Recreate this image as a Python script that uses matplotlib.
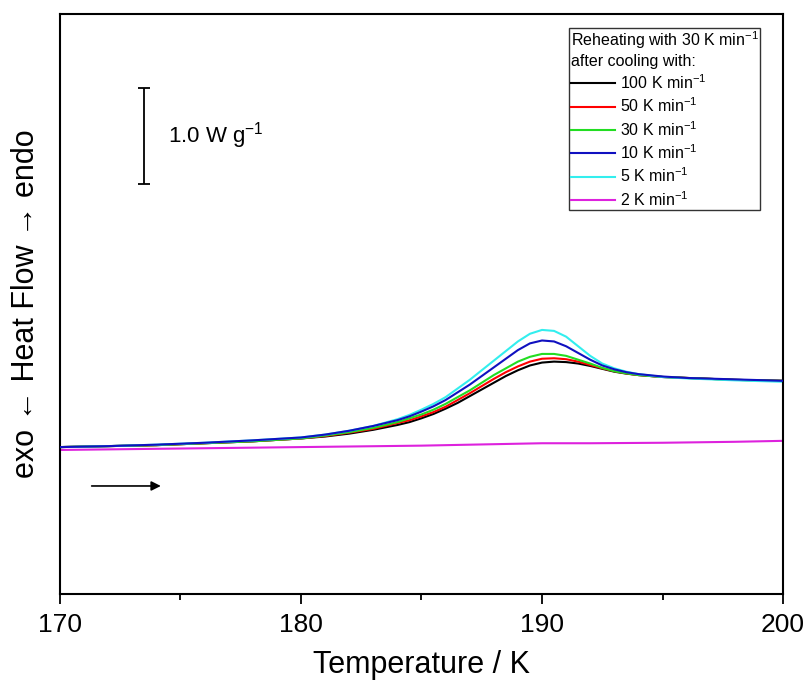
import matplotlib
matplotlib.use("Agg")
import matplotlib.pyplot as plt

# temperature grid (K) shared by the reheating curves
temps = [170, 172, 174, 176, 178, 180, 181, 182, 183, 184, 184.5, 185, 185.5, 186, 186.5,
         187, 187.5, 188, 188.5, 189, 189.5, 190, 190.5, 191, 191.5, 192, 192.5, 193,
         193.5, 194, 195, 196, 198, 200]

# heat flow (W/g, arbitrary offset)
hf_100 = [1.53, 1.54, 1.55, 1.57, 1.59, 1.62, 1.64, 1.67, 1.71, 1.76, 1.79, 1.83, 1.875, 1.93, 1.99,
          2.06, 2.13, 2.20, 2.27, 2.33, 2.38, 2.41, 2.42, 2.415, 2.40, 2.375, 2.345, 2.315,
          2.295, 2.28, 2.26, 2.25, 2.23, 2.22]
hf_50 = [1.53, 1.54, 1.55, 1.57, 1.59, 1.62, 1.645, 1.68, 1.72, 1.78, 1.81, 1.85, 1.895, 1.95, 2.02,
         2.09, 2.165, 2.24, 2.31, 2.37, 2.42, 2.45, 2.455, 2.445, 2.42, 2.385, 2.35, 2.32,
         2.297, 2.28, 2.26, 2.25, 2.23, 2.22]
hf_30 = [1.53, 1.54, 1.55, 1.57, 1.59, 1.62, 1.65, 1.685, 1.73, 1.79, 1.83, 1.87, 1.92, 1.98, 2.05,
         2.12, 2.20, 2.28, 2.35, 2.42, 2.47, 2.50, 2.50, 2.48, 2.44, 2.40, 2.355, 2.32,
         2.298, 2.28, 2.26, 2.25, 2.23, 2.22]
hf_10 = [1.53, 1.54, 1.555, 1.575, 1.60, 1.63, 1.66, 1.70, 1.75, 1.81, 1.85, 1.90, 1.955, 2.02, 2.10,
         2.18, 2.27, 2.36, 2.45, 2.54, 2.61, 2.64, 2.63, 2.58, 2.51, 2.44, 2.38, 2.34,
         2.31, 2.29, 2.265, 2.25, 2.235, 2.22]
hf_5 = [1.53, 1.54, 1.555, 1.575, 1.60, 1.63, 1.66, 1.70, 1.75, 1.82, 1.865, 1.92, 1.98, 2.05, 2.14,
        2.23, 2.33, 2.43, 2.53, 2.63, 2.71, 2.75, 2.74, 2.68, 2.58, 2.48, 2.40, 2.35,
        2.315, 2.29, 2.26, 2.245, 2.225, 2.21]

temps_2 = [170, 175, 180, 185, 188, 190, 192, 195, 198, 200]
hf_2 = [1.50, 1.515, 1.53, 1.545, 1.56, 1.57, 1.57, 1.575, 1.585, 1.595]

labels = ["100 K min$^{-1}$", "50 K min$^{-1}$", "30 K min$^{-1}$",
          "10 K min$^{-1}$", "5 K min$^{-1}$", "2 K min$^{-1}$"]
colors = ["black", "#ff0000", "#22dd22", "#1010c0", "#33eeee", "#dd22dd"]

plt.rcParams["font.family"] = ["Liberation Sans", "DejaVu Sans"]
plt.rcParams["mathtext.fontset"] = "custom"
plt.rcParams["mathtext.rm"] = "Liberation Sans"

fig = plt.figure(figsize=(8.05, 6.86), dpi=100)
ax = fig.add_axes([0.0745, 0.1341, 0.8982, 0.8455])

series = [hf_100, hf_50, hf_30, hf_10, hf_5]
handles = []
for vals, lab, col in zip(series, labels[:5], colors[:5]):
    (h,) = ax.plot(temps, vals, color=col, lw=1.5, label=lab)
    handles.append(h)
(h2,) = ax.plot(temps_2, hf_2, color=colors[5], lw=1.5, label=labels[5])
handles.append(h2)
# blue sits on top in the tail
handles[3].set_zorder(3)

ax.set_xlim(170, 200)
ax.set_ylim(0, 6.04)
ax.set_xticks([170, 180, 190, 200])
ax.set_xticks([175, 185, 195], minor=True)
ax.set_yticks([])
ax.tick_params(axis="x", which="major", direction="out", length=7, width=1.3, labelsize=19, pad=7)
ax.tick_params(axis="x", which="minor", direction="out", length=4, width=1.3)
for s in ax.spines.values():
    s.set_linewidth(1.5)

ax.set_xlabel("Temperature / K", fontsize=22, labelpad=9)
ax.set_ylabel("exo \u2190 Heat Flow \u2192 endo", fontsize=22, labelpad=14)

# scale bar
ax.errorbar([173.5], [4.77], yerr=[[0.5], [0.5]], color="black", lw=1.3, capsize=4, capthick=1.3)
ax.text(174.5, 4.77, "1.0 W g$^{-1}$", fontsize=16, va="center", ha="left")

# heating direction arrow
ax.annotate("", xy=(174.3, 1.125), xytext=(171.2, 1.125),
            arrowprops=dict(arrowstyle="-|>", color="black", lw=1.2, mutation_scale=14))

leg = ax.legend(handles=handles, loc="upper right", bbox_to_anchor=(0.9685, 0.976),
                title="Reheating with 30 K min$^{-1}$\nafter cooling with:",
                fontsize=11.5, title_fontsize=11.5, frameon=True, fancybox=False,
                edgecolor="black", handlelength=2.8, handletextpad=0.3,
                borderpad=0.1, labelspacing=0.29, borderaxespad=0)
leg.get_frame().set_linewidth(1.0)
leg._legend_box.align = "left"

fig.savefig("out.png", dpi=100)
